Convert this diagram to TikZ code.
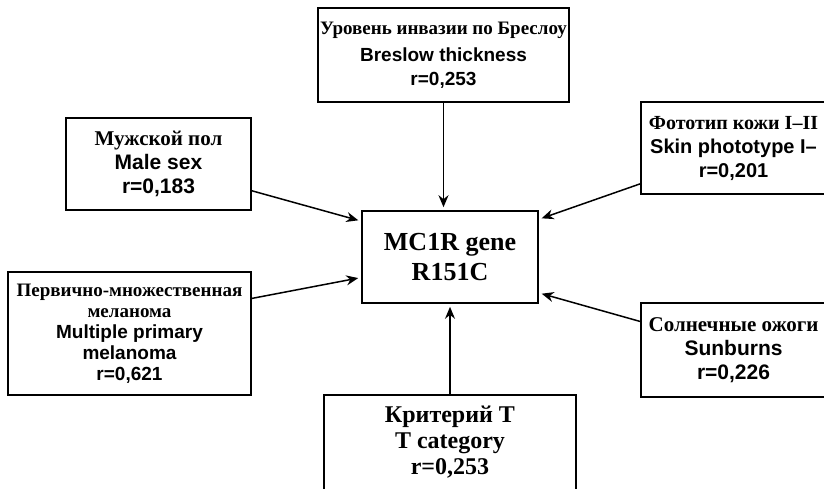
\documentclass[tikz,border=0pt]{standalone}
\usepackage{fontspec}
\setmainfont{Liberation Serif}
\setsansfont{Liberation Sans}
\usetikzlibrary{arrows.meta}
\newcommand{\rutxt}[1]{{\rmfamily #1}}
\newcommand{\entxt}[1]{{\sffamily #1}}
\tikzset{
  factor/.style={draw, line width=0.8pt, align=center, inner sep=0pt, font=\fontsize{10.5}{12}\selectfont\bfseries},
  gene/.style={factor, font=\fontsize{13}{15}\selectfont\bfseries},
  link/.style={-{Stealth[length=6pt,width=5pt]}, line width=0.75pt, shorten >=1.5pt}
}

\begin{document}
\begin{tikzpicture}[x=0.5pt, y=-0.5pt]
    \useasboundingbox (0,0) rectangle (824,488);
    \clip (0,0) rectangle (824,488);
    % Central gene
    \node[gene, minimum width=88pt, minimum height=46pt] (mc1r) at (450,257) {MC1R gene\\R151C};
    % Factors
    \node[factor, font=\fontsize{9.5}{12}\selectfont\bfseries, minimum width=125.5pt, minimum height=47pt] (breslow) at (443.5,55)
      {\rutxt{Уровень инвазии по Бреслоу}\\[1.5pt]\entxt{Breslow thickness}\\\entxt{r=0,253}};
    \node[factor, minimum width=92.5pt, minimum height=46pt] (male) at (158.5,164)
      {\rutxt{Мужской пол}\\\entxt{Male sex}\\\entxt{r=0,183}};
    \node[factor, font=\fontsize{9.5}{10.5}\selectfont\bfseries, minimum width=121.5pt, minimum height=61.5pt] (multi) at (129.5,333.5)
      {\rutxt{Первично-множественная}\\\rutxt{меланома}\\\entxt{Multiple primary}\\\entxt{melanoma}\\\entxt{r=0,621}};
    \node[factor, font=\fontsize{10}{12}\selectfont\bfseries, minimum width=92.5pt, minimum height=46pt] (photo) at (733.5,148)
      {\rutxt{Фототип кожи I--II}\\\entxt{Skin phototype I--}\\\entxt{r=0,201}};
    \node[factor, minimum width=92.5pt, minimum height=47pt] (sunburn) at (733.5,350)
      {\rutxt{Солнечные ожоги}\\\entxt{Sunburns}\\\entxt{r=0,226}};
    \node[factor, font=\fontsize{12}{13}\selectfont\bfseries, minimum width=126pt, minimum height=47.5pt] (tcat) at (450,442.5)
      {Критерий Т\\T category\\r=0,253};
    % Links
    \draw[link] (breslow.south) -- (breslow.south |- mc1r.north);
    \draw[link] (tcat.north) -- (tcat.north |- mc1r.south);
    \draw[link] (male.-16) -- (mc1r.158);
    \draw[link] (multi.16) -- (mc1r.193);
    \draw[link] (photo.201) -- (mc1r.23);
    \draw[link] (sunburn.163) -- (mc1r.-22);
\end{tikzpicture}
\end{document}
